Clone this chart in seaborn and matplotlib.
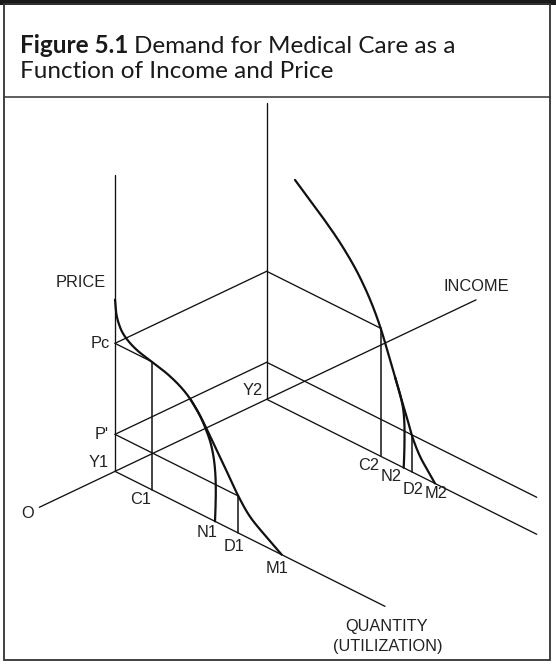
import numpy as np
import matplotlib
matplotlib.use("Agg")
import matplotlib.pyplot as plt
from matplotlib.patches import Rectangle
import seaborn as sns

# ---- diagram values (income, quantity, price units of the schematic) ----
INCOME_Y1 = 75.7
INCOME_Y2 = 227.4
INCOME_MAX = 436.7
QUANTITY_MAX = 270.0
PRICE_MAX = 296.5

PRICE_PC = 128.0
PRICE_PPRIME = 37.0

QTY_C1, QTY_N1, QTY_D1, QTY_M1 = 36.7, 100.0, 123.3, 166.7
QTY_C2, QTY_N2, QTY_D2, QTY_M2 = 114.0, 137.0, 145.0, 168.3

# demand curve at income Y1 (quantity, price)
demand_y1_q = [0, 1, 3, 7, 13, 22, 36.7, 52, 65, 75, 85, 97, 110, 123.3,
               135, 151.5, 166.7]
demand_y1_p = [171.7, 160.2, 151.7, 143.2, 137.2, 132.2, 128.0, 123.7, 117.7,
               110.2, 98.2, 79.7, 58.7, 37.0, 22.2, 10.0, 0]
# curve ending at N1
need_y1_q = [75, 85, 91, 95.5, 98.5, 100.2, 100.8, 100.6, 100.0]
need_y1_p = [110.2, 98.2, 87.2, 76.5, 64.0, 49.8, 34.1, 17.0, 0]

# demand curve at income Y2
demand_y2_q = [28.3, 43.3, 58.3, 73.3, 88.3, 98.3, 106.3, 114, 118.3, 123.3,
               128.3, 133.3, 140.3, 145, 149.3, 154.3, 161.3, 168.3]
demand_y2_p = [233.5, 220.7, 207.7, 193.3, 175.6, 160.4, 145.6, 128.0, 116.0,
               101.5, 86.5, 71.5, 51.5, 37.0, 27.0, 18.0, 9.0, 0]
# curve ending at N2
need_y2_q = [128.3, 133.3, 136.3, 137.6, 137.8, 137.5, 137.0]
need_y2_p = [86.5, 71.5, 59.5, 46.1, 28.2, 13.0, 0]

# ---- oblique projection of (quantity, income, price) onto the page ----
ORIGIN_X, ORIGIN_Y = 39.3, 507.3
INC_SLOPE = -0.475
QTY_SLOPE = 0.5


def proj(q, inc, p):
    q = np.asarray(q, dtype=float)
    p = np.asarray(p, dtype=float)
    x = ORIGIN_X + inc + q
    y = ORIGIN_Y + INC_SLOPE * inc + QTY_SLOPE * q - p
    return x, y


def catmull_rom(xs, ys, n=20, alpha=0.5):
    P = np.column_stack([xs, ys]).astype(float)
    P = np.vstack([2 * P[0] - P[1], P, 2 * P[-1] - P[-2]])
    out = [P[1]]
    for i in range(1, len(P) - 2):
        p0, p1, p2, p3 = P[i - 1], P[i], P[i + 1], P[i + 2]
        t0 = 0.0
        t1 = t0 + np.linalg.norm(p1 - p0) ** alpha
        t2 = t1 + np.linalg.norm(p2 - p1) ** alpha
        t3 = t2 + np.linalg.norm(p3 - p2) ** alpha
        t = np.linspace(t1, t2, n)[1:, None]
        A1 = (t1 - t) / (t1 - t0) * p0 + (t - t0) / (t1 - t0) * p1
        A2 = (t2 - t) / (t2 - t1) * p1 + (t - t1) / (t2 - t1) * p2
        A3 = (t3 - t) / (t3 - t2) * p2 + (t - t2) / (t3 - t2) * p3
        B1 = (t2 - t) / (t2 - t0) * A1 + (t - t0) / (t2 - t0) * A2
        B2 = (t3 - t) / (t3 - t1) * A2 + (t - t1) / (t3 - t1) * A3
        C = (t2 - t) / (t2 - t1) * B1 + (t - t1) / (t2 - t1) * B2
        out.extend(C)
    out = np.array(out)
    return out[:, 0], out[:, 1]


sns.set_theme(style="white")
plt.rcParams["font.family"] = ["Liberation Sans", "DejaVu Sans"]

fig = plt.figure(figsize=(5.56, 6.65), dpi=100)
ax = fig.add_axes([0, 0, 1, 1])
INK = "#111111"


def draw(xs, ys, lw):
    sns.lineplot(x=np.asarray(xs), y=np.asarray(ys), sort=False,
                 estimator=None, color=INK, linewidth=lw, ax=ax)


def segment(a, b, lw=0.95):
    xa, ya = proj(*a)
    xb, yb = proj(*b)
    draw([xa, xb], [ya, yb], lw)


# axes of the diagram
segment((0, 0, 0), (0, INCOME_MAX, 0))                    # income
for inc in (INCOME_Y1, INCOME_Y2):
    segment((0, inc, 0), (QUANTITY_MAX, inc, 0))           # quantity
    segment((0, inc, 0), (0, inc, PRICE_MAX))              # price

# price planes
segment((0, INCOME_Y1, PRICE_PC), (0, INCOME_Y2, PRICE_PC))
segment((0, INCOME_Y1, PRICE_PPRIME), (0, INCOME_Y2, PRICE_PPRIME))
segment((0, INCOME_Y1, PRICE_PC), (QTY_C1, INCOME_Y1, PRICE_PC))
segment((0, INCOME_Y2, PRICE_PC), (QTY_C2, INCOME_Y2, PRICE_PC))
segment((0, INCOME_Y1, PRICE_PPRIME), (QTY_D1, INCOME_Y1, PRICE_PPRIME))
segment((0, INCOME_Y2, PRICE_PPRIME), (QUANTITY_MAX, INCOME_Y2, PRICE_PPRIME))

# drop lines to the quantity axis
for q, inc, p in ((QTY_C1, INCOME_Y1, PRICE_PC), (QTY_D1, INCOME_Y1, PRICE_PPRIME),
                  (QTY_C2, INCOME_Y2, PRICE_PC), (QTY_D2, INCOME_Y2, PRICE_PPRIME)):
    segment((q, inc, 0), (q, inc, p), lw=1.1)

# demand curves
for qs, ps, inc in ((demand_y1_q, demand_y1_p, INCOME_Y1),
                    (need_y1_q, need_y1_p, INCOME_Y1),
                    (demand_y2_q, demand_y2_p, INCOME_Y2),
                    (need_y2_q, need_y2_p, INCOME_Y2)):
    x, y = proj(qs, inc, ps)
    sx, sy = catmull_rom(x, y)
    draw(sx, sy, 1.6)

ax.set_xlim(0, 556)
ax.set_ylim(665, 0)
ax.axis("off")

# labels
LABEL = dict(fontsize=11.8, color="#222222", ha="center", va="center")


def label(text, pt, dx, dy, **kw):
    x, y = proj(*pt)
    opts = dict(LABEL)
    opts.update(kw)
    ax.annotate(text, xy=(float(x), float(y)), xytext=(dx, dy),
                textcoords="offset pixels", **opts)


label("PRICE", (0, INCOME_Y1, 188.5), -9, 0, ha="right")
label("Pc", (0, INCOME_Y1, PRICE_PC), -5, 0, ha="right")
label("P'", (0, INCOME_Y1, PRICE_PPRIME), -6, 0, ha="right")
label("Y1", (0, INCOME_Y1, 0), -6, 9, ha="right")
label("Y2", (0, INCOME_Y2, 0), -4, 9, ha="right")
label("O", (0, 0, 0), -12, -6)
label("C1", (QTY_C1, INCOME_Y1, 0), -11, -10)
label("N1", (QTY_N1, INCOME_Y1, 0), -7.5, -11.5)
label("D1", (QTY_D1, INCOME_Y1, 0), -4, -14)
label("M1", (QTY_M1, INCOME_Y1, 0), -5, -14)
label("C2", (QTY_C2, INCOME_Y2, 0), -12, -9)
label("N2", (QTY_N2, INCOME_Y2, 0), -13, -8.5)
label("D2", (QTY_D2, INCOME_Y2, 0), 1, -18)
label("M2", (QTY_M2, INCOME_Y2, 0), 1.5, -10.5)
label("INCOME", (0, INCOME_MAX, 0), 0.5, 13)
label("QUANTITY", (QUANTITY_MAX, INCOME_Y1, 0), 2, -20.5)
label("(UTILIZATION)", (QUANTITY_MAX, INCOME_Y1, 0), 2.5, -40.5)

# frame and title block
ax.add_patch(Rectangle((0, 0), 556, 5, facecolor="#1a1a1a", edgecolor="none"))
ax.add_patch(Rectangle((4, 4), 546, 656, facecolor="none",
                       edgecolor="#333333", linewidth=1.3))
ax.plot([4, 550], [97, 97], color="#333333", linewidth=1.1)

TITLE_FONT = ["Lato", "DejaVu Sans"]
TITLE_SIZE = 17.5
t1 = ax.text(19.5, 53, "Figure 5.1", fontsize=TITLE_SIZE, fontweight="bold",
             family=TITLE_FONT, color="#1a1a1a", va="baseline", ha="left")
fig.canvas.draw()
bb = t1.get_window_extent(renderer=fig.canvas.get_renderer())
x_after = ax.transData.inverted().transform((bb.x1, bb.y0))[0]
ax.text(x_after + 6, 53, "Demand for Medical Care as a", fontsize=TITLE_SIZE,
        family=TITLE_FONT, color="#1a1a1a", va="baseline", ha="left")
ax.text(19.5, 78.5, "Function of Income and Price", fontsize=TITLE_SIZE,
        family=TITLE_FONT, color="#1a1a1a", va="baseline", ha="left")

fig.savefig("out.png", dpi=100, facecolor="white")
